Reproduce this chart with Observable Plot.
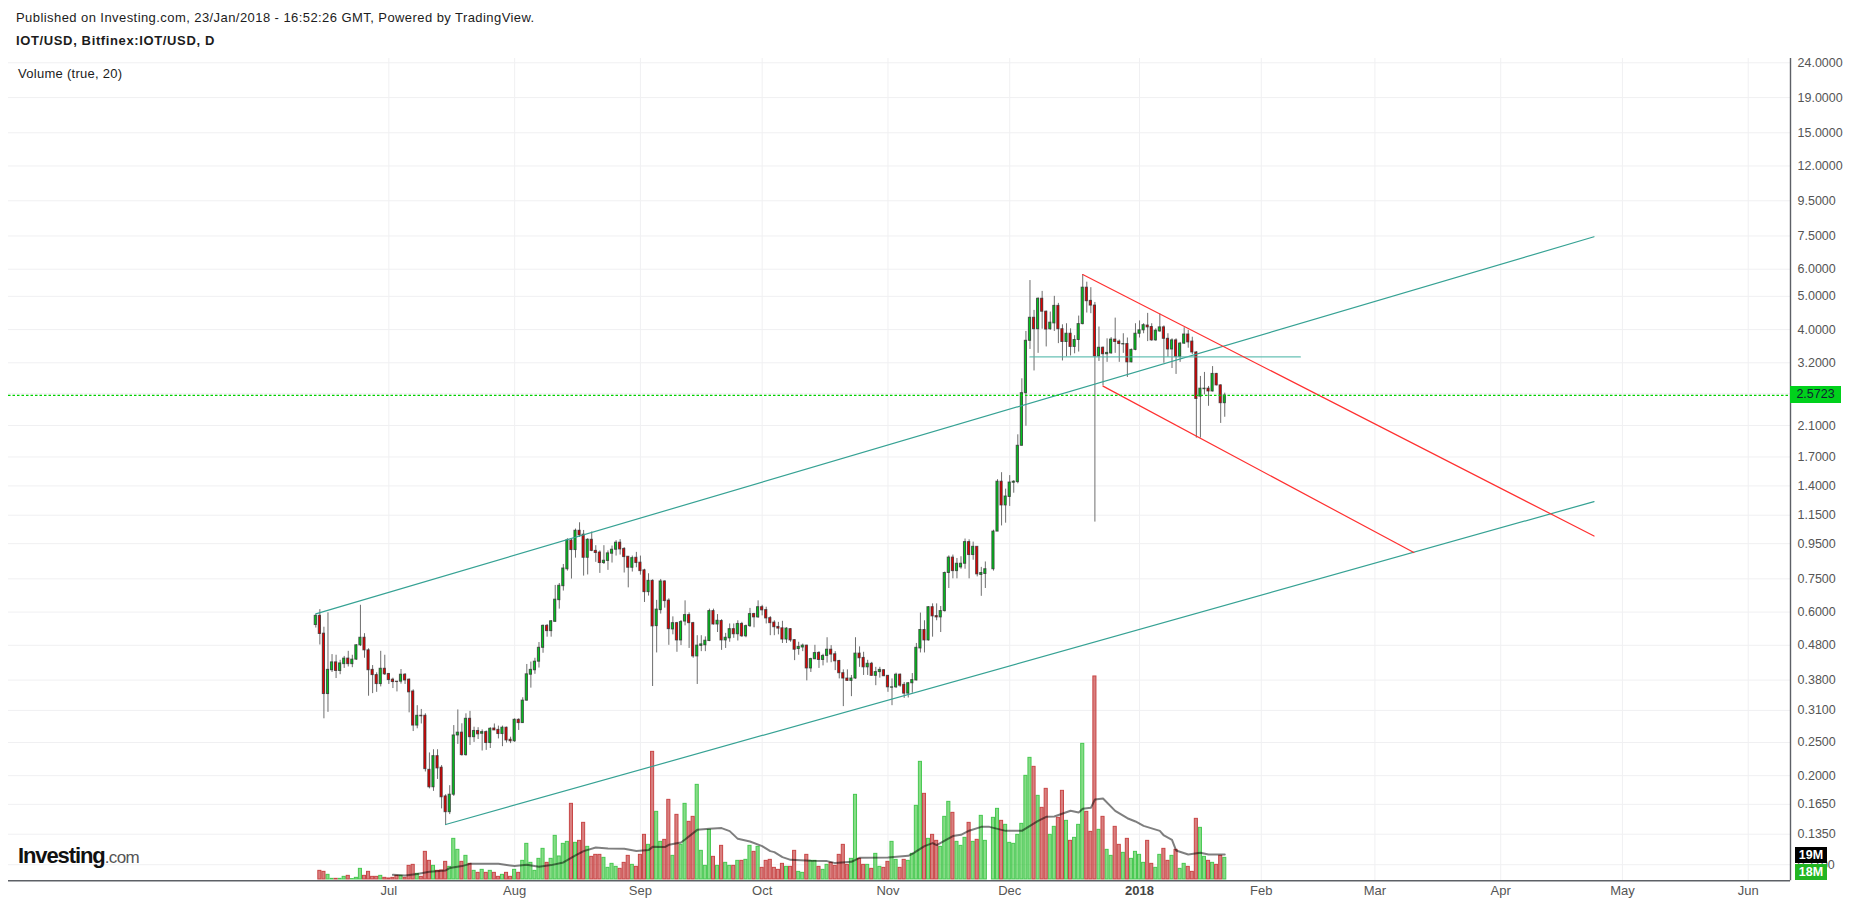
<!DOCTYPE html>
<html>
<head>
<meta charset="utf-8">
<script src="https://cdn.jsdelivr.net/npm/d3@7"></script>
<script src="https://cdn.jsdelivr.net/npm/@observablehq/plot@0.6"></script>
<style>
html,body{margin:0;padding:0;background:#fff;width:1853px;height:904px;overflow:hidden;font-family:"Liberation Sans",Arial,sans-serif}
#head{position:relative;height:50px}
.t{position:absolute;white-space:nowrap;color:#1c1c1c}
.badge{position:absolute;text-align:center;font:12.5px "Liberation Sans",Arial,sans-serif}
#wrap{position:relative;width:1853px;height:904px}
svg{display:block}
</style>
</head>
<body>
<div id="wrap">
<div id="head">
<div class="t" style="left:16px;top:10px;font-size:13px;letter-spacing:.43px">Published on Investing.com, 23/Jan/2018 - 16:52:26 GMT, Powered by TradingView.</div>
<div class="t" style="left:16px;top:33px;font-size:13px;font-weight:700;letter-spacing:.63px">IOT/USD, Bitfinex:IOT/USD, D</div>
</div>
<div id="chart"></div>
<div class="t" style="left:18px;top:66px;font-size:13px;letter-spacing:.28px">Volume (true, 20)</div>
<div class="t" style="left:18px;top:843px;font-size:22px;font-weight:700;letter-spacing:-1.1px;color:#111">Investing<span style="font-size:17px;font-weight:400;color:#555;letter-spacing:-.6px">.com</span></div>
<div class="badge" style="left:1790px;top:386px;width:51px;height:17px;line-height:17px;background:#00d11c;color:#123">2.5723</div>
<div class="badge" style="left:1795px;top:847px;width:32px;height:16px;line-height:16px;background:#000;color:#fff;font-weight:700">19M</div>
<div class="badge" style="left:1795px;top:864px;width:32px;height:16px;line-height:16px;background:#22b522;color:#fff;font-weight:700">18M</div>
</div>
<script>
const firstDay = Date.UTC(2017, 5, 13);
const DAY = 86400000;

const open = [.55,.585,.519,.346,.406,.428,.404,.423,.439,.423,.436,.48,.505,.464,.407,.393,.37,.41,.396,.381,.376,.376,.394,.381,.352,.28,.299,.299,.208,.185,.228,.211,.174,.1565,.176,.262,.267,.2296,.293,.259,.27,.265,.268,.249,.2745,.272,.2645,.276,.2545,.252,.291,.2847,.331,.394,.406,.43,.472,.547,.528,.562,.65,.714,.80,.97,.91,1.036,1.009,.864,.975,.905,.895,.834,.846,.888,.912,.956,.917,.87,.808,.864,.836,.794,.686,.74,.546,.608,.737,.648,.534,.557,.496,.563,.588,.557,.4455,.478,.48,.494,.604,.552,.565,.496,.503,.535,.517,.554,.51,.546,.592,.579,.62,.608,.576,.559,.543,.538,.499,.535,.497,.468,.473,.479,.411,.437,.456,.435,.447,.466,.452,.432,.398,.384,.378,.384,.454,.441,.414,.424,.391,.401,.406,.391,.361,.362,.394,.368,.347,.372,.379,.47,.532,.496,.62,.584,.579,.604,.78,.865,.79,.81,.83,.96,.88,.93,.77,.775,.80,.80,1.03,1.44,1.228,1.30,1.43,1.436,1.833,2.61,3.71,4.33,4.01,4.92,4.51,4.01,4.17,4.69,4.01,3.68,3.89,3.56,3.73,4.15,5.3,4.85,4.7,3.34,3.54,3.39,3.41,3.74,3.69,3.62,3.63,3.21,3.49,3.89,3.98,4.11,4.07,3.72,3.95,4.06,3.76,3.5,3.72,3.33,3.64,3.87,3.69,3.43,2.55,2.68,2.69,2.64,2.97,2.75,2.44];
const high = [.59,.61,.542,.597,.451,.449,.434,.4455,.461,.449,.482,.628,.519,.469,.419,.399,.461,.449,.397,.385,.376,.408,.397,.383,.356,.32,.312,.303,.233,.238,.238,.214,.176,.187,.28,.311,.2834,.303,.308,.277,.276,.272,.27,.276,.283,.279,.279,.277,.259,.293,.293,.3375,.422,.429,.44,.489,.55,.552,.567,.7176,.727,.826,.982,.98,1.048,1.093,1.038,.982,1.027,.937,.905,.937,.905,.935,.969,.976,.925,.87,.874,.896,.874,.80,.776,.745,.649,.747,.74,.656,.581,.56,.567,.647,.597,.56,.512,.512,.508,.612,.612,.59,.57,.52,.554,.554,.566,.56,.55,.615,.595,.647,.628,.62,.582,.566,.56,.564,.54,.537,.498,.49,.484,.48,.44,.48,.46,.452,.505,.479,.46,.434,.407,.407,.392,.505,.475,.458,.434,.428,.414,.414,.408,.392,.383,.398,.396,.374,.374,.397,.486,.596,.566,.622,.634,.634,.623,.785,.875,.88,.86,.87,.98,.975,.96,.91,.81,.84,.80,1.04,1.46,1.53,1.37,1.5,1.45,1.973,2.874,3.95,5.56,4.55,4.95,5.17,4.53,4.5,5.0,4.77,4.13,4.16,4.02,3.84,4.38,5.79,5.5,5.3,4.8,4.07,3.56,3.76,3.79,4.32,3.73,3.89,3.78,3.51,4.16,4.24,4.16,4.46,4.16,4.02,4.44,4.1,3.89,3.76,3.76,3.67,4.05,3.98,3.8,3.45,2.92,3.0,2.73,3.12,2.98,2.76,2.61];
const low = [.539,.481,.293,.306,.40,.384,.394,.411,.415,.413,.434,.476,.44,.341,.347,.35,.363,.392,.369,.359,.351,.37,.369,.305,.269,.274,.283,.205,.183,.18,.195,.16,.143,.154,.174,.2467,.228,.228,.245,.25,.255,.236,.237,.24,.271,.256,.243,.249,.248,.25,.271,.284,.33,.36,.395,.412,.455,.507,.507,.56,.612,.691,.79,.749,.862,.99,.764,.77,.90,.838,.778,.826,.794,.834,.874,.88,.78,.706,.785,.808,.769,.64,.668,.364,.456,.592,.616,.48,.515,.458,.479,.547,.47,.44,.369,.46,.46,.492,.55,.523,.464,.47,.49,.503,.494,.506,.505,.541,.54,.575,.585,.554,.512,.512,.515,.486,.486,.49,.433,.449,.46,.378,.40,.436,.411,.418,.426,.427,.405,.383,.318,.377,.34,.382,.414,.392,.392,.39,.366,.385,.389,.35,.32,.359,.362,.336,.337,.348,.378,.456,.456,.494,.507,.566,.523,.60,.703,.75,.75,.80,.80,.75,.85,.76,.667,.703,.80,.79,1.05,1.07,1.09,1.22,1.333,1.42,1.83,2.09,3.5,3.03,3.41,4.01,3.56,3.98,3.95,3.64,3.24,3.33,3.35,3.4,3.44,4.13,4.47,4.45,1.098,3.23,2.74,3.21,3.39,3.41,3.21,3.41,2.9,3.2,3.47,3.78,3.89,3.69,3.7,3.7,3.93,3.19,3.32,3.08,2.96,3.21,3.62,3.53,3.38,1.93,1.93,2.58,2.39,2.63,2.74,2.13,2.22];
const close = [.585,.518,.346,.407,.428,.404,.425,.439,.423,.436,.48,.505,.464,.406,.393,.37,.41,.395,.38,.375,.375,.394,.379,.35,.28,.299,.298,.209,.185,.228,.21,.173,.1565,.176,.262,.267,.2296,.293,.259,.27,.264,.268,.249,.274,.271,.2645,.276,.2534,.252,.291,.2847,.331,.395,.407,.43,.472,.547,.528,.564,.652,.716,.804,.971,.91,1.036,1.004,.864,.975,.905,.892,.834,.847,.89,.912,.956,.914,.868,.808,.862,.834,.79,.686,.74,.545,.61,.737,.646,.535,.557,.496,.561,.588,.557,.4455,.479,.483,.495,.604,.552,.566,.496,.505,.535,.517,.554,.51,.546,.592,.579,.62,.607,.575,.557,.542,.537,.499,.537,.496,.466,.475,.479,.411,.4376,.4556,.435,.447,.466,.451,.431,.398,.384,.378,.384,.454,.44,.414,.424,.391,.401,.407,.39,.362,.362,.394,.366,.347,.372,.38,.472,.532,.496,.62,.583,.579,.604,.78,.865,.79,.83,.83,.96,.88,.93,.773,.78,.80,.80,1.03,1.44,1.228,1.304,1.432,1.44,1.833,2.61,3.71,4.33,4.01,4.92,4.51,4.0,4.19,4.69,4.01,3.68,3.89,3.56,3.73,4.15,5.3,4.84,4.7,3.34,3.54,3.39,3.42,3.74,3.68,3.63,3.63,3.21,3.49,3.89,3.98,4.12,4.06,3.72,3.97,4.06,3.76,3.5,3.72,3.33,3.64,3.87,3.67,3.43,2.51,2.69,2.69,2.64,2.97,2.75,2.44,2.57];
const volume = [0,6.9,6.1,3.7,.5,.5,.5,2.1,2.9,.3,1.3,8.5,2.9,6.1,2.1,2.1,2.9,1.3,.8,1.3,2.9,2.9,1.3,10.9,11.7,4.5,2.1,22.1,14.9,10.9,6.9,7.2,14.1,10.1,32.5,23.7,14.1,18.9,12.5,6.9,5.3,7.7,5.3,6.9,5.3,2.1,3.7,5.3,2.1,7.7,5.3,14.9,28.5,13.3,6.9,16.5,24.5,13.3,16.5,34.9,18.4,28.5,30.1,60.5,29.3,30.9,45.3,26.1,18.1,19.7,19.7,17.3,9.3,12.5,10.1,8.5,13.3,18.9,11.7,10.1,19.7,35.7,27.7,102.1,54.1,30.1,31.7,63.7,18.9,51.7,27.7,60.5,46.1,50.1,75.7,22.9,10.9,39.7,18.1,10.9,26.9,13.3,10.9,10.9,14.9,14.9,15.7,26.9,22.1,26.1,9.3,14.9,15.7,9.3,7.7,12.5,10.1,10.1,22.9,6.1,5.3,19.7,14.9,14.9,10.1,7.7,11.7,13.3,10.9,19.7,27.7,11.7,16.5,67.7,16.5,11.7,11.7,8.5,20.5,10.1,9.3,14.1,30.1,15.7,9.3,15.7,14.9,20.5,58.9,94.1,68.5,32.5,35.7,30.9,26.1,50.1,62.1,53.3,30.1,26.9,33.3,45.3,30.1,31.7,50.9,30.9,0,49.3,56.5,46.9,43.7,29.3,28.5,35.7,44.5,82.9,97.3,90.1,66.9,57.3,72.5,35.7,42.1,49.3,70.9,46.9,30.9,33.3,43.7,108.5,54.1,38.1,162.4,39.7,50.1,23.7,18.9,42.1,27.7,21.3,32.5,16.5,22.1,19.7,13.3,30.9,12.5,9.3,19.7,24.5,14.9,18.9,23.7,8.5,12.5,10.1,6.1,48.5,41.3,18.1,14.9,13.3,11.7,18.9,17.3];

// Moving average of volume (bar number, millions)
const maBar = [19,22,25,28,32,33,36,38,45,49,52,55,58,61,64,66,69,72,76,79,82,83,86,87,90,91,94,97,100,102,104,107,110,112,113,115,117,122,126,128,132,134,141,146,147,150,152,153,157,159,161,164,166,170,174,178,180,182,186,188,189,191,192,194,197,200,202,204,208,209,211,212,215,218,220,224];
const maVal = [3.7,3.2,4.3,6.1,7.2,9.1,10.7,12.5,12.5,10.7,11.7,10.1,11.5,13.6,19.2,22.7,25.6,24.8,24.5,22.7,23.5,26.1,25.9,27.7,29.6,32,39.7,40.5,41.1,38.7,32.5,30.4,26.7,22.7,21.9,17.9,15.7,14.9,14.7,13.1,14.1,17.3,17.6,18.9,20.5,26.7,29.1,27.5,34.7,35.7,39,42.1,42.1,38.9,38.9,46.9,50.1,50.4,55,53.6,56.5,57.3,64,64.8,54.9,49,46.4,42.9,38.9,35.2,31.7,23.2,20,21.3,20,20];

// Drawn lines: [start bar, start price, end bar, end price]
const channelUpper = [0,.593,315,7.46];
const channelLower = [32,.1441,315,1.26];
const supportLine  = [176,3.33,242.6,3.33];
const wedgeUpper   = [189,5.79,315,1.0];
const wedgeLower   = [194,2.736,270.6,.895];

const priceNow = 2.5723;
const gridLevels = [24,19,15,12,9.5,7.5,6,5,4,3.2,2.6,2.1,1.7,1.4,1.15,.95,.75,.6,.48,.38,.31,.25,.2,.165,.135,.11];
const labelLevels = [24,19,15,12,9.5,7.5,6,5,4,3.2,2.1,1.7,1.4,1.15,.95,.75,.6,.48,.38,.31,.25,.2,.165,.135,.11];
const monthLabels = ["Jul","Aug","Sep","Oct","Nov","Dec","Feb","Mar","Apr","May","Jun"];
const monthStarts = [[2017,6],[2017,7],[2017,8],[2017,9],[2017,10],[2017,11],[2018,1],[2018,2],[2018,3],[2018,4],[2018,5]];
const yearLabel = "2018";
const yearStart = [2018,0,2];

const barDate = i => new Date(firstDay + i * DAY);
const rows = open.map((o,i)=>({date:barDate(i),i,open:o,high:high[i],low:low[i],close:close[i],volume:volume[i],up:close[i]>=o}));

// Volume shares the price panel: millions to a level that stands linearly above the panel floor
const pxPerMillion = 1.25, pxPerLog = 148.9, floorLevel = 0.0996;
const volumeLevel = m => floorLevel * Math.exp(m * pxPerMillion / pxPerLog);

const monthDates = monthStarts.map(([y,m])=>new Date(Date.UTC(y,m,1)));
const yearDate = new Date(Date.UTC(...yearStart));
const tickDates = [...monthDates, yearDate];
const labelOf = new Map(monthDates.map((d,i)=>[+d,monthLabels[i]]));

const seg = (a,color,w,op=1)=>Plot.line([{x:barDate(a[0]),y:a[1]},{x:barDate(a[2]),y:a[3]}],{x:"x",y:"y",stroke:color,strokeWidth:w,strokeOpacity:op});
const dom0 = barDate(-75.73), dom1 = barDate(363.42);
const half = .27, volHalf = .38;
const up = rows.filter(d=>d.up), down = rows.filter(d=>!d.up);
const body = (data,color)=>Plot.rect(data,{x1:d=>barDate(d.i-half),x2:d=>barDate(d.i+half),y1:"open",y2:"close",fill:color,stroke:"#2e2e2e",strokeWidth:1,strokeOpacity:.75});
const vbar = (data,fill,stroke)=>Plot.rect(data.filter(d=>d.volume>0),{x1:d=>barDate(d.i-volHalf),x2:d=>barDate(d.i+volHalf),y1:floorLevel,y2:d=>volumeLevel(d.volume),fill,stroke,strokeWidth:1,fillOpacity:.5});

const chart = Plot.plot({
  width:1853,height:854,marginLeft:8,marginRight:63,marginTop:8,marginBottom:23.7,
  style:{background:"transparent",fontFamily:"'Liberation Sans',Arial,sans-serif"},
  x:{type:"utc",domain:[dom0,dom1],axis:null},
  y:{type:"log",domain:[0.09872,24.70],axis:null},
  marks:[
    Plot.ruleY(gridLevels,{stroke:"#f0f0f2",strokeWidth:1}),
    Plot.ruleX(tickDates,{stroke:"#f0f0f2",strokeWidth:1}),
    vbar(up,"#0fb90f","#46c850"),
    vbar(down,"#b30101","#c84646"),
    Plot.line(maBar.map((b,i)=>({x:barDate(b),y:volumeLevel(maVal[i])})),{x:"x",y:"y",stroke:"#000",strokeOpacity:.5,strokeWidth:2}),
    Plot.ruleX(rows.filter(d=>d.high>d.low),{x:"date",y1:"low",y2:"high",stroke:"#6e6e6e",strokeWidth:1}),
    body(up,"#00c81e"),
    body(down,"#e60000"),
    seg(channelUpper,"#36a294",1.2),
    seg(channelLower,"#36a294",1.2),
    seg(supportLine,"#4db6a8",1.4,.85),
    seg(wedgeUpper,"#ff3030",1.2),
    seg(wedgeLower,"#ff3030",1.2),
    Plot.ruleY([priceNow],{stroke:"#00d000",strokeWidth:1.2,strokeDasharray:"2.5 2"}),
    Plot.ruleX([dom1],{stroke:"#5d6066",strokeWidth:1.4}),
    Plot.ruleY([0.09872],{stroke:"#5d6066",strokeWidth:1.6}),
    Plot.text(labelLevels,{y:d=>d,text:d=>d.toFixed(4),frameAnchor:"right",textAnchor:"start",dx:7,fontSize:12.5,fill:"#555"}),
    Plot.axisX({anchor:"bottom",ticks:monthDates,tickSize:0,tickPadding:5,label:null,tickFormat:d=>labelOf.get(+d),fontSize:13,fill:"#555"}),
    Plot.axisX({anchor:"bottom",ticks:[yearDate],tickSize:0,tickPadding:5,label:null,tickFormat:()=>yearLabel,fontSize:13,fontWeight:700,fill:"#444"})
  ]
});
document.getElementById("chart").appendChild(chart);
</script>
</body>
</html>
